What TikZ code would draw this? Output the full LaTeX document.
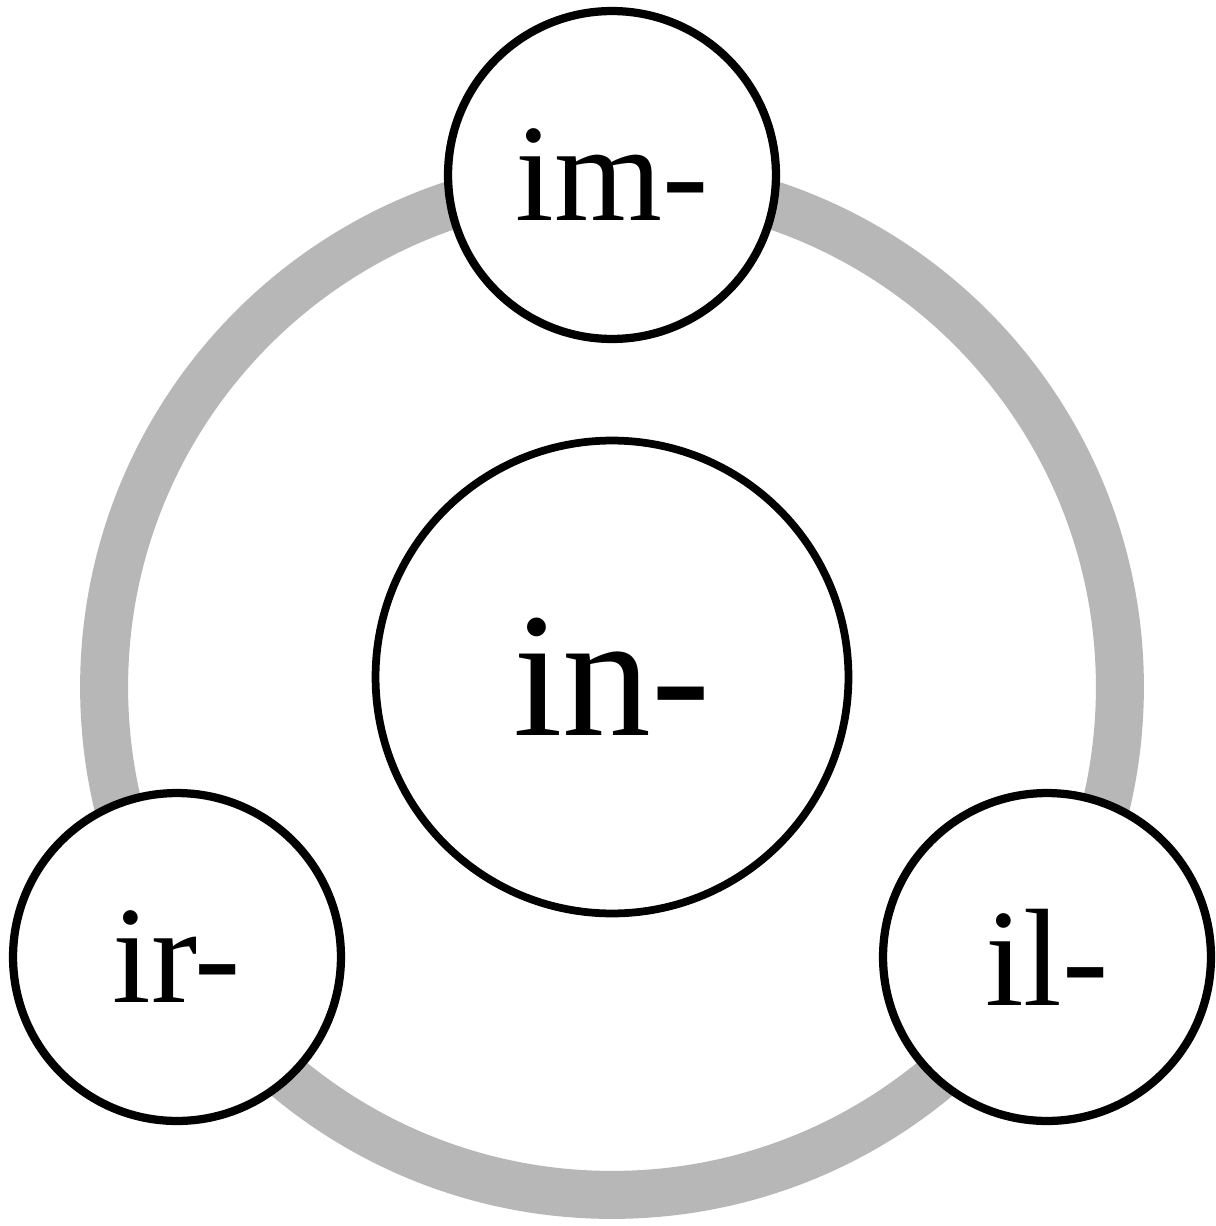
\documentclass[tikz,border=0pt]{standalone}
\usepackage{fontspec}
\setmainfont{Liberation Serif}

\begin{document}
\begin{tikzpicture}
    [x=0.02cm,y=-0.02cm,
    % Styles
    ring/.style={line width=0.96cm, draw=ringcolor},
    prefix circle/.style={circle, draw, fill=white, line width=0.165cm,
                          minimum size=6.56cm, inner sep=0pt,
                          font=\fontsize{79pt}{90pt}\selectfont},
    root circle/.style={prefix circle, line width=0.155cm, minimum size=9.46cm,
                        font=\fontsize{101pt}{120pt}\selectfont}]

    % Colors
    \definecolor{ringcolor}{RGB}{183,183,183}

    % Coordinates
    \coordinate (O) at (612,687);
    \useasboundingbox (0,0) rectangle (1215,1226);

    % Graphic
    \draw[ring] (O) circle [radius=10.16cm];

    \node[root circle] (in) at (612,677) {in-};
    \node[prefix circle] (im) at (612,175) {im-};
    \node[prefix circle] (ir) at (177,957) {ir-};
    \node[prefix circle] (il) at (1047,957) {il-};

\end{tikzpicture}
\end{document}
